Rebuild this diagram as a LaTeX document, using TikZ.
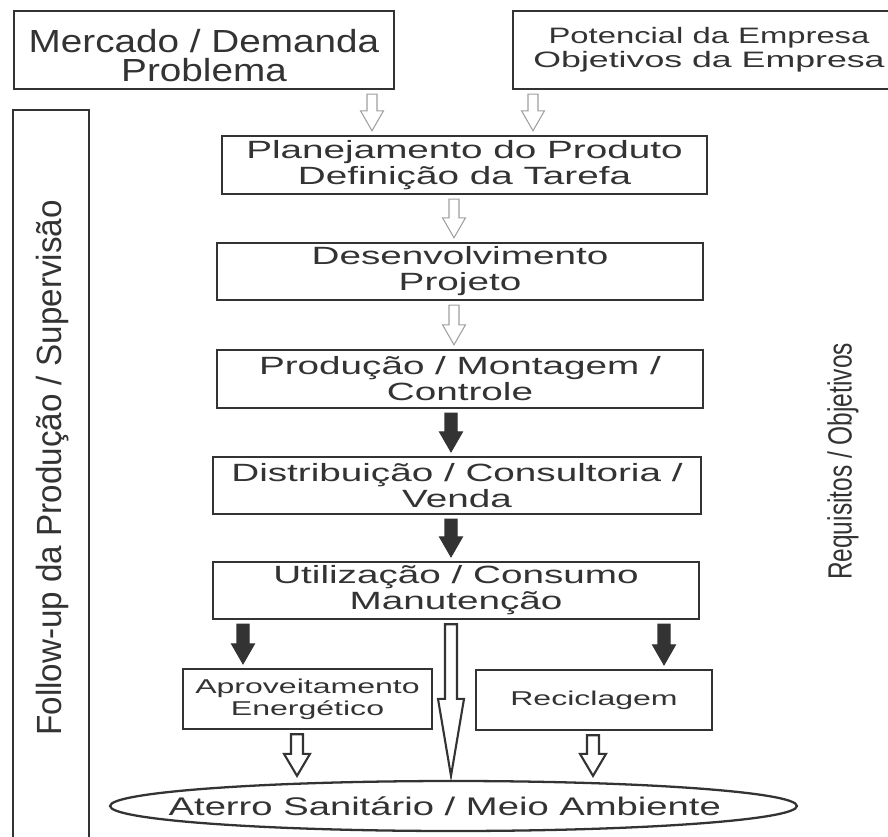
\documentclass[tikz,border=0pt]{standalone}
\usepackage{fontspec}
\setmainfont{Liberation Sans}
\usepackage{graphicx}
\usetikzlibrary{shapes,calc}
\definecolor{ink}{HTML}{333333}
\newcommand{\widetxt}[2][1.55]{\scalebox{#1}[1]{#2}}
\newcommand{\pxu}{0.569pt}
% block arrow: [style]{x}{from node}{to node}{half shaft}{half head}{head length}
\newcommand{\blockarrow}[7][]{%
  \draw[#1] let \p1=(#3.south), \p2=(#4.north), \p3=(#2,0) in
    (\x3-#5*\pxu,\y1-4*\pxu) -- (\x3+#5*\pxu,\y1-4*\pxu)
    -- (\x3+#5*\pxu,\y2+4*\pxu+#7*\pxu) -- (\x3+#6*\pxu,\y2+4*\pxu+#7*\pxu)
    -- (\x3,\y2+4*\pxu) -- (\x3-#6*\pxu,\y2+4*\pxu+#7*\pxu)
    -- (\x3-#5*\pxu,\y2+4*\pxu+#7*\pxu) -- cycle;}
\tikzstyle{box}=[draw=ink,line width=1.4pt,text=ink,inner sep=0pt,align=center,minimum width=9.72cm,minimum height=1.14cm,font=\fontsize{14.2}{14.8}\selectfont]
\tikzstyle{topbox}=[box,minimum width=7.6cm,minimum height=1.56cm]
\tikzstyle{endbox}=[box,minimum height=1.2cm,font=\fontsize{11.4}{12.5}\selectfont]
\tikzstyle{openarrow}=[draw=gray!75,line width=0.6pt,fill=white]
\tikzstyle{fullarrow}=[draw=ink,fill=ink,line width=0.6pt]
\tikzstyle{openarrowb}=[draw=ink,line width=1.2pt,fill=white]
\tikzstyle{sidetext}=[rotate=90,text=ink,inner sep=0pt]

\begin{document}
\begin{tikzpicture}[x=0.02cm,y=-0.02cm]
    \useasboundingbox (0,0) rectangle (888,837);

    \node[topbox,font=\fontsize{18.2}{16.5}\selectfont] (mercado) at (204,50)
        {\rule{0pt}{20pt}\widetxt[1.21]{Mercado / Demanda}\\\widetxt[1.21]{Problema}};
    \node[topbox,minimum width=7.84cm,font=\fontsize{12.7}{13.7}\selectfont] (potencial) at (709,50)
        {\widetxt[1.47]{Potencial da Empresa}\\\widetxt[1.6]{Objetivos da Empresa}};

    \node[box,minimum width=9.7cm,minimum height=1.16cm] (plan) at (464.5,165)
        {\widetxt{Planejamento do Produto}\\\widetxt{Definição da Tarefa}};
    \node[box] (desenv) at (460,271.5) {\widetxt{Desenvolvimento}\\\widetxt{Projeto}};
    \node[box,minimum height=1.16cm] (prod) at (460,379)
        {\widetxt{Produção / Montagem /}\\\widetxt{Controle}};
    \node[box,minimum width=9.76cm] (distr) at (457,485.5)
        {\widetxt{Distribuição / Consultoria /}\\\widetxt{Venda}};
    \node[box] (util) at (456,590.5) {\widetxt{Utilização / Consumo}\\\widetxt{Manutenção}};

    \node[endbox,minimum width=4.98cm] (aprov) at (307.5,699)
        {\widetxt[1.6]{Aproveitamento}\\\widetxt[1.6]{Energético}};
    \node[endbox,minimum width=4.72cm] (recic) at (594,700) {\widetxt[1.6]{Reciclagem}};
    \node[draw=ink,line width=1.3pt,ellipse,minimum width=13.74cm,minimum height=1cm,
        inner xsep=-1cm,inner ysep=0pt,text=ink,font=\fontsize{14.5}{15}\selectfont] (aterro) at (453.5,806)
        {\widetxt[1.5]{Aterro Sanitário / Meio Ambiente}\hspace*{0.35cm}};

    % side labels
    \node[draw=ink,line width=1.4pt,minimum width=1.52cm,minimum height=15cm] (followbox) at (51,485) {};
    \node[sidetext,font=\fontsize{19.9}{20}\selectfont] (follow) at (53,468)
        {\widetxt[0.95]{Follow-up da Produção / Supervisão}};
    \node[sidetext,font=\fontsize{19.1}{20}\selectfont] (requisitos) at (843,461.5)
        {\widetxt[0.73]{Requisitos / Objetivos}};

    \blockarrow[openarrow]{372}{mercado}{plan}{5}{11.5}{20}
    \blockarrow[openarrow]{533}{potencial}{plan}{5}{11.5}{20}
    \blockarrow[openarrow]{454}{plan}{desenv}{5}{11.5}{20}
    \blockarrow[openarrow]{454}{desenv}{prod}{5}{11.5}{20}
    \blockarrow[fullarrow]{451}{prod}{distr}{6}{11.5}{20}
    \blockarrow[fullarrow]{451}{distr}{util}{6}{11.5}{20}
    \blockarrow[fullarrow]{243}{util}{aprov}{6}{11.5}{20}
    \blockarrow[fullarrow]{664}{util}{recic}{6}{11.5}{20}
    \blockarrow[openarrowb]{451}{util}{aterro}{6}{13}{77}
    \blockarrow[openarrowb]{297}{aprov}{aterro}{6}{13}{22}
    \blockarrow[openarrowb]{593}{recic}{aterro}{6}{13}{22}

\end{tikzpicture}
\end{document}
